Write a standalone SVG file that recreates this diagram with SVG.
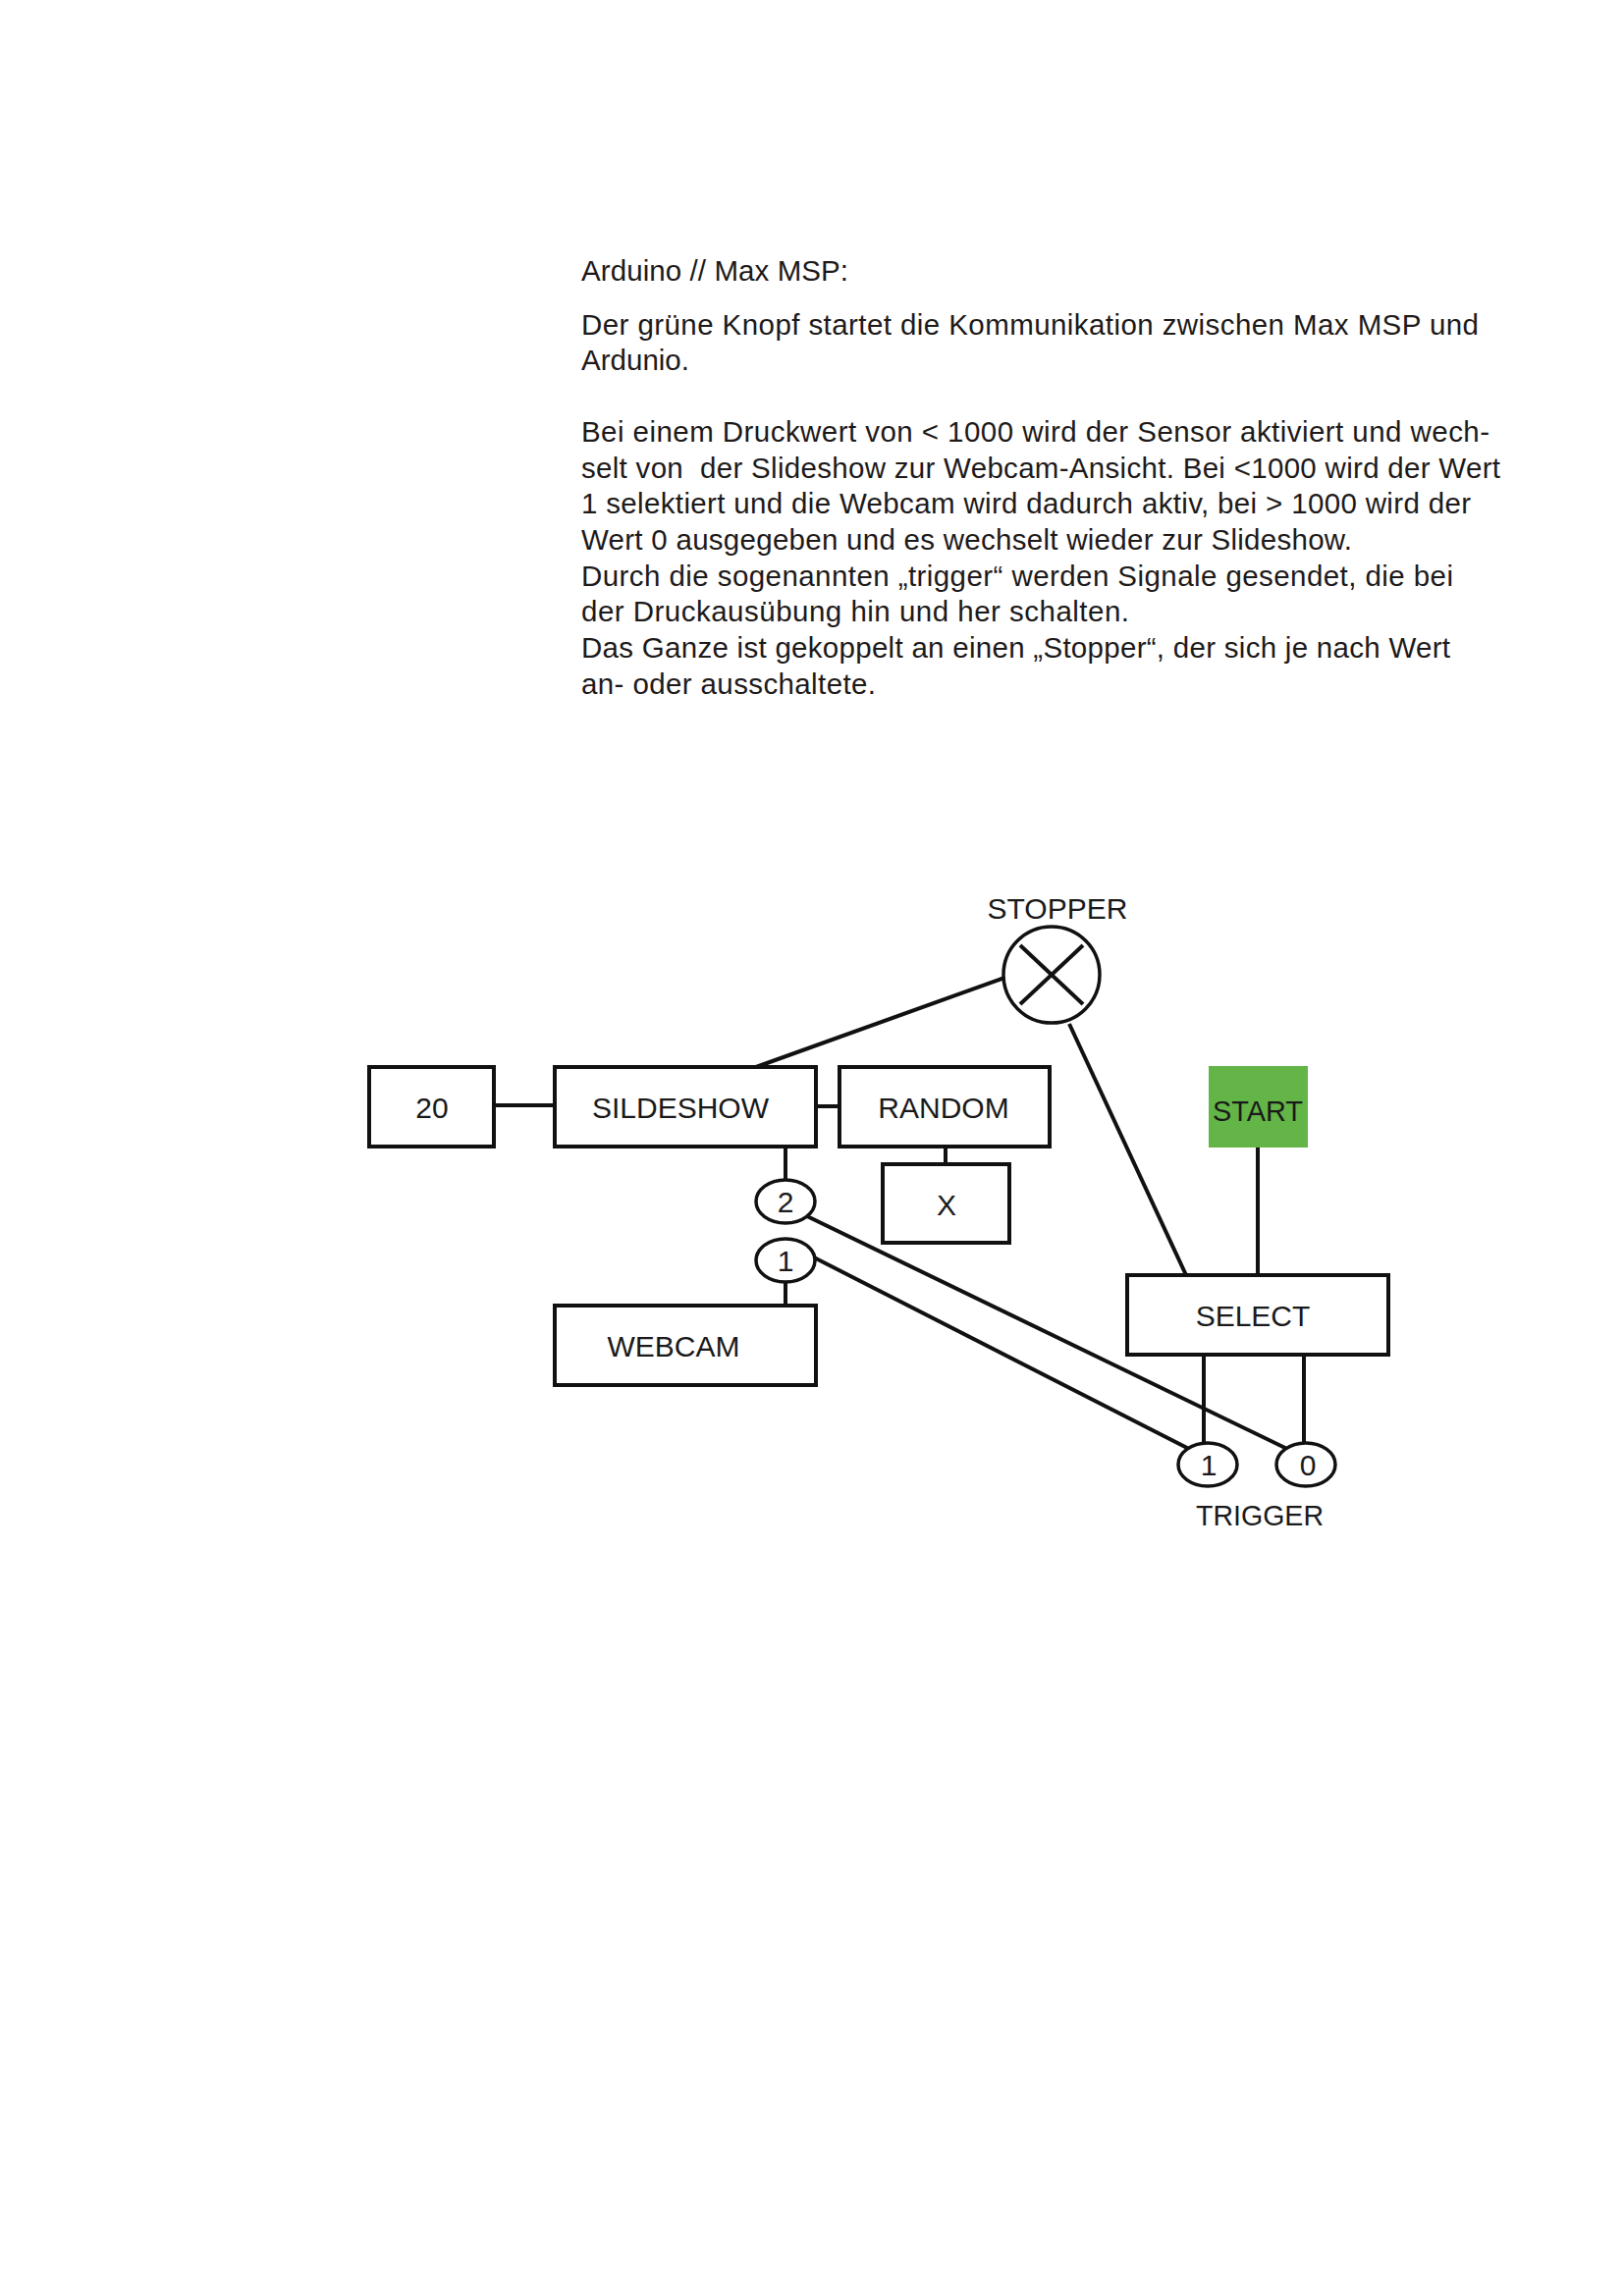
<svg xmlns="http://www.w3.org/2000/svg" width="1654" height="2339" viewBox="0 0 1654 2339">
  <style>
    .para { font-family: "Liberation Sans", Arial, sans-serif; font-size: 29.5px; fill: #1e1a1a; }
    .lbl { font-family: "Liberation Sans", Arial, sans-serif; font-size: 30px; fill: #1a1a1a; text-anchor: middle; }
    .box { fill: #ffffff; stroke: #111111; stroke-width: 4; }
    .oval { fill: #ffffff; stroke: #111111; stroke-width: 3.5; }
    .wire { stroke: #111111; stroke-width: 4; fill: none; stroke-linecap: butt; }
  </style>
  <rect x="0" y="0" width="1654" height="2339" fill="#ffffff"/>

  <g id="description">
    <text class="para" x="592" y="286" textLength="272" lengthAdjust="spacing">Arduino // Max MSP:</text>
    <text class="para" x="592" y="341" textLength="914" lengthAdjust="spacing">Der grüne Knopf startet die Kommunikation zwischen Max MSP und</text>
    <text class="para" x="592" y="377" textLength="110" lengthAdjust="spacing">Ardunio.</text>
    <text class="para" x="592" y="450" textLength="925" lengthAdjust="spacing">Bei einem Druckwert von &lt; 1000 wird der Sensor aktiviert und wech-</text>
    <text class="para" x="592" y="487" textLength="936" lengthAdjust="spacing" style="white-space:pre">selt von  der Slideshow zur Webcam-Ansicht. Bei &lt;1000 wird der Wert</text>
    <text class="para" x="592" y="523" textLength="906" lengthAdjust="spacing">1 selektiert und die Webcam wird dadurch aktiv, bei &gt; 1000 wird der</text>
    <text class="para" x="592" y="560" textLength="785" lengthAdjust="spacing">Wert 0 ausgegeben und es wechselt wieder zur Slideshow.</text>
    <text class="para" x="592" y="597" textLength="888" lengthAdjust="spacing">Durch die sogenannten „trigger“ werden Signale gesendet, die bei</text>
    <text class="para" x="592" y="633" textLength="558" lengthAdjust="spacing">der Druckausübung hin und her schalten.</text>
    <text class="para" x="592" y="670" textLength="885" lengthAdjust="spacing">Das Ganze ist gekoppelt an einen „Stopper“, der sich je nach Wert</text>
    <text class="para" x="592" y="707" textLength="300" lengthAdjust="spacing">an- oder ausschaltete.</text>
  </g>

  <g id="connectors">
    <line class="wire" x1="504" y1="1126" x2="565" y2="1126"/>
    <line class="wire" x1="831" y1="1127" x2="855" y2="1127"/>
    <line class="wire" x1="963" y1="1168" x2="963" y2="1186"/>
    <line class="wire" x1="800" y1="1168" x2="800" y2="1202"/>
    <line class="wire" x1="800" y1="1306" x2="800" y2="1330"/>
    <line class="wire" x1="1023" y1="996" x2="770" y2="1087"/>
    <line class="wire" x1="1089" y1="1043" x2="1208" y2="1299"/>
    <line class="wire" x1="1281" y1="1168" x2="1281" y2="1299"/>
    <line class="wire" x1="1226" y1="1380" x2="1226" y2="1470"/>
    <line class="wire" x1="1328" y1="1380" x2="1328" y2="1470"/>
    <line class="wire" x1="822" y1="1239" x2="1311" y2="1476"/>
    <line class="wire" x1="829" y1="1281" x2="1211" y2="1476"/>
  </g>

  <g id="node-20">
    <rect class="box" x="376" y="1087" width="127" height="81"/>
    <text class="lbl" x="440" y="1139">20</text>
  </g>
  <g id="node-sildeshow">
    <rect class="box" x="565" y="1087" width="266" height="81"/>
    <text class="lbl" x="693" y="1139">SILDESHOW</text>
  </g>
  <g id="node-random">
    <rect class="box" x="855" y="1087" width="214" height="81"/>
    <text class="lbl" x="961" y="1139">RANDOM</text>
  </g>
  <g id="node-x">
    <rect class="box" x="899" y="1186" width="129" height="80"/>
    <text class="lbl" x="964" y="1238">X</text>
  </g>
  <g id="node-out2">
    <ellipse class="oval" cx="800" cy="1224" rx="30" ry="22"/>
    <text class="lbl" x="800" y="1235">2</text>
  </g>
  <g id="node-out1">
    <ellipse class="oval" cx="800" cy="1284" rx="30" ry="22"/>
    <text class="lbl" x="800" y="1295">1</text>
  </g>
  <g id="node-webcam">
    <rect class="box" x="565" y="1330" width="266" height="81"/>
    <text class="lbl" x="686" y="1382">WEBCAM</text>
  </g>
  <g id="node-stopper">
    <text class="lbl" x="1077" y="936">STOPPER</text>
    <circle class="oval" cx="1071" cy="993" r="49"/>
    <line class="wire" x1="1039" y1="963" x2="1103" y2="1023"/>
    <line class="wire" x1="1103" y1="963" x2="1039" y2="1023"/>
  </g>
  <g id="node-start">
    <rect x="1231" y="1086" width="101" height="83" fill="#63b547"/>
    <text class="lbl" x="1281" y="1142" textLength="92" lengthAdjust="spacingAndGlyphs">START</text>
  </g>
  <g id="node-select">
    <rect class="box" x="1148" y="1299" width="266" height="81"/>
    <text class="lbl" x="1276" y="1351">SELECT</text>
  </g>
  <g id="node-trigger1">
    <ellipse class="oval" cx="1230" cy="1492" rx="30" ry="22"/>
    <text class="lbl" x="1231" y="1503">1</text>
  </g>
  <g id="node-trigger0">
    <ellipse class="oval" cx="1330" cy="1492" rx="30" ry="22"/>
    <text class="lbl" x="1332" y="1503">0</text>
  </g>
  <g id="label-trigger">
    <text class="lbl" x="1283" y="1554" textLength="130" lengthAdjust="spacingAndGlyphs">TRIGGER</text>
  </g>
</svg>
